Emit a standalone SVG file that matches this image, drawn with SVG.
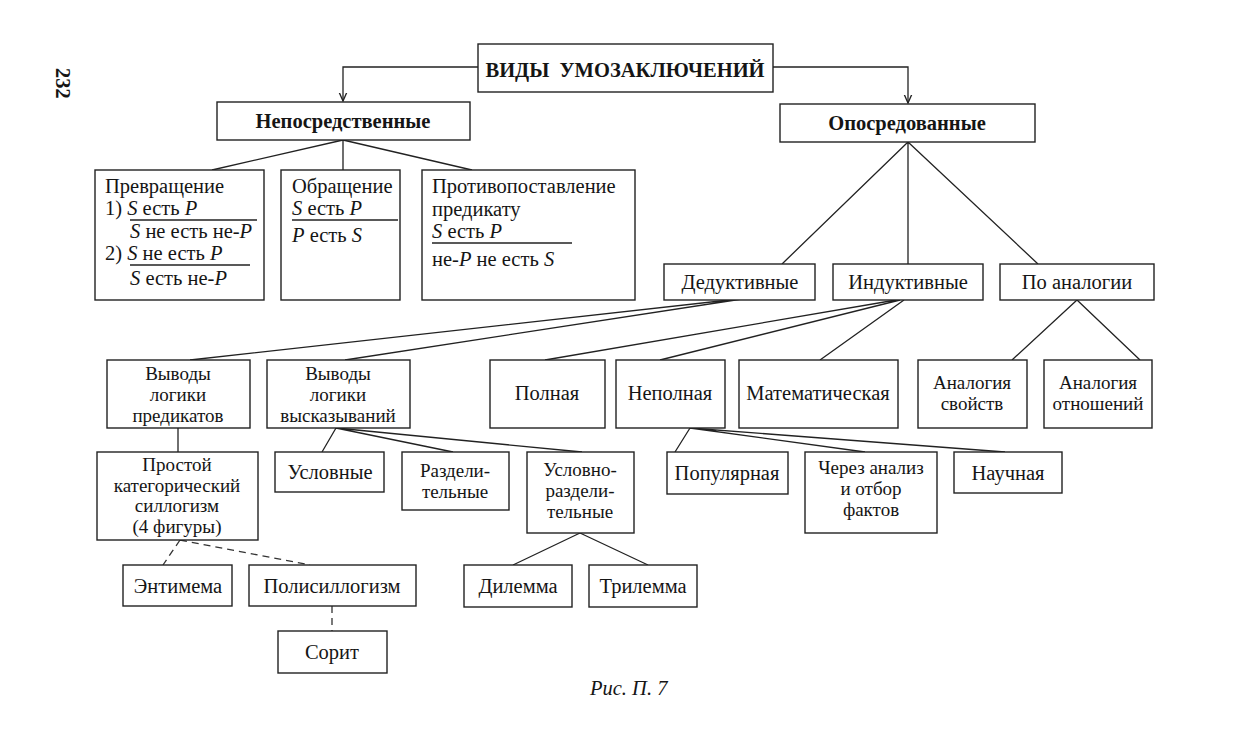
<svg xmlns="http://www.w3.org/2000/svg" width="1239" height="736" viewBox="0 0 1239 736">
<defs>
<style>
.b{fill:#fff;stroke:#222;stroke-width:1.4}
.t{font-family:"Liberation Serif","DejaVu Serif",serif;font-size:20.5px;fill:#151515}
.m{font-size:19px}
.c{text-anchor:middle}
.bold{font-weight:bold}
.i{font-style:italic}
.l{stroke:#222;stroke-width:1.3;fill:none}
.d{stroke:#333;stroke-width:1.3;fill:none;stroke-dasharray:7 5}
</style>
<marker id="ar" viewBox="0 0 10 10" refX="9" refY="5" markerWidth="7" markerHeight="7" orient="auto"><path d="M0,1 L9,5 L0,9" fill="none" stroke="#222" stroke-width="1.5"/></marker>
</defs>
<rect width="1239" height="736" fill="#fff"/>
<text x="0" y="0" class="t bold" font-size="18" transform="translate(56,68) rotate(90)">232</text>

<g id="connectors">
<path class="l" d="M478,67 H343 V101" marker-end="url(#ar)"/>
<path class="l" d="M773,67 H908 V103" marker-end="url(#ar)"/>
<path class="l" d="M343,140 L212,170 M343,140 V170 M343,140 L472,170"/>
<path class="l" d="M908,142 L782,264 M908,142 V264 M908,142 L1038,264"/>
<path class="l" d="M738,299 L190,360 M742,299 L345,360"/>
<path class="l" d="M896,300 L545,360 M900,300 L660,360 M904,300 L820,360"/>
<path class="l" d="M1077,300 L1012,360 M1077,300 L1140,360"/>
<path class="l" d="M178,428 V452"/>
<path class="l" d="M336,428 L322,452 M336,428 L453,452 M336,428 L582,452"/>
<path class="l" d="M690,428 L675,452 M690,428 L865,452 M690,428 L1005,452"/>
<path class="l" d="M580,533 L513,565 M580,533 L648,565"/>
<path class="d" d="M180,540 L163,565 M180,540 L310,565"/>
<path class="d" d="M332,606 V631" stroke-dasharray="4 4"/>
</g>

<g id="root"><rect class="b" x="478" y="44" width="295" height="48"/><text class="t c bold" x="625" y="77" font-size="21.5" xml:space="preserve">ВИДЫ  УМОЗАКЛЮЧЕНИЙ</text></g>
<g id="neposr"><rect class="b" x="217" y="102" width="253" height="38"/><text class="t c bold" x="343" y="128" font-size="18.5">Непосредственные</text></g>
<g id="oposr"><rect class="b" x="780" y="104" width="255" height="38"/><text class="t c bold" x="907" y="130" font-size="18.5">Опосредованные</text></g>

<g id="prevr"><rect class="b" x="95" y="170" width="169" height="130"/>
<text class="t" x="105" y="193">Превращение</text>
<text class="t" x="105" y="215">1) <tspan class="i">S</tspan> есть <tspan class="i">P</tspan></text>
<line class="l" x1="130" y1="220" x2="257" y2="220"/>
<text class="t" x="130" y="238"><tspan class="i">S</tspan> не есть не-<tspan class="i">P</tspan></text>
<text class="t" x="105" y="260">2) <tspan class="i">S</tspan> не есть <tspan class="i">P</tspan></text>
<line class="l" x1="130" y1="265" x2="250" y2="265"/>
<text class="t" x="130" y="285"><tspan class="i">S</tspan> есть не-<tspan class="i">P</tspan></text>
</g>
<g id="obr"><rect class="b" x="281" y="170" width="119" height="130"/>
<text class="t" x="292" y="193">Обращение</text>
<text class="t" x="292" y="215"><tspan class="i">S</tspan> есть <tspan class="i">P</tspan></text>
<line class="l" x1="292" y1="220" x2="398" y2="220"/>
<text class="t" x="292" y="242"><tspan class="i">P</tspan> есть <tspan class="i">S</tspan></text>
</g>
<g id="protiv"><rect class="b" x="422" y="170" width="213" height="130"/>
<text class="t" x="432" y="193">Противопоставление</text>
<text class="t" x="432" y="216">предикату</text>
<text class="t" x="432" y="238"><tspan class="i">S</tspan> есть <tspan class="i">P</tspan></text>
<line class="l" x1="432" y1="243" x2="572" y2="243"/>
<text class="t" x="432" y="266">не-<tspan class="i">P</tspan> не есть <tspan class="i">S</tspan></text>
</g>

<g id="ded"><rect class="b" x="664" y="264" width="151" height="36"/><text class="t c" x="740" y="289">Дедуктивные</text></g>
<g id="ind"><rect class="b" x="833" y="264" width="150" height="36"/><text class="t c" x="908" y="289">Индуктивные</text></g>
<g id="analog"><rect class="b" x="1000" y="264" width="154" height="36"/><text class="t c" x="1077" y="289">По аналогии</text></g>

<g id="vpred"><rect class="b" x="107" y="360" width="143" height="68"/><text class="t m c" x="178" y="380">Выводы</text><text class="t m c" x="178" y="401">логики</text><text class="t m c" x="178" y="422">предикатов</text></g>
<g id="vvysk"><rect class="b" x="267" y="360" width="143" height="68"/><text class="t m c" x="338" y="380">Выводы</text><text class="t m c" x="338" y="401">логики</text><text class="t m c" x="338" y="422">высказываний</text></g>
<g id="poln"><rect class="b" x="490" y="360" width="115" height="68"/><text class="t c" x="547" y="400">Полная</text></g>
<g id="nepoln"><rect class="b" x="616" y="360" width="109" height="68"/><text class="t c" x="670" y="400">Неполная</text></g>
<g id="matem"><rect class="b" x="739" y="360" width="159" height="68"/><text class="t c" x="818" y="400">Математическая</text></g>
<g id="asv"><rect class="b" x="918" y="360" width="109" height="68"/><text class="t m c" x="972" y="389">Аналогия</text><text class="t m c" x="972" y="410">свойств</text></g>
<g id="aotn"><rect class="b" x="1044" y="360" width="108" height="68"/><text class="t m c" x="1098" y="389">Аналогия</text><text class="t m c" x="1098" y="410">отношений</text></g>

<g id="prost"><rect class="b" x="97" y="452" width="161" height="88"/><text class="t m c" x="177" y="471" font-size="18.5">Простой</text><text class="t m c" x="177" y="491.5" font-size="18.5">категорический</text><text class="t m c" x="177" y="512" font-size="18.5">силлогизм</text><text class="t m c" x="177" y="532.5" font-size="18.5">(4 фигуры)</text></g>
<g id="uslov"><rect class="b" x="275" y="452" width="109" height="40"/><text class="t c" x="330" y="479">Условные</text></g>
<g id="razd"><rect class="b" x="402" y="452" width="107" height="58"/><text class="t m c" x="455" y="477">Раздели-</text><text class="t m c" x="455" y="498">тельные</text></g>
<g id="uslrazd"><rect class="b" x="527" y="452" width="107" height="81"/><text class="t m c" x="580" y="476">Условно-</text><text class="t m c" x="580" y="497">раздели-</text><text class="t m c" x="580" y="518">тельные</text></g>
<g id="popul"><rect class="b" x="667" y="452" width="121" height="42"/><text class="t c" x="727" y="480">Популярная</text></g>
<g id="cherez"><rect class="b" x="805" y="452" width="132" height="81"/><text class="t m c" x="871" y="474">Через анализ</text><text class="t m c" x="871" y="495">и отбор</text><text class="t m c" x="871" y="516">фактов</text></g>
<g id="nauch"><rect class="b" x="954" y="452" width="108" height="41"/><text class="t c" x="1008" y="480">Научная</text></g>

<g id="entim"><rect class="b" x="123" y="565" width="109" height="41"/><text class="t c" x="178" y="593">Энтимема</text></g>
<g id="polis"><rect class="b" x="249" y="565" width="167" height="41"/><text class="t c" x="332" y="593">Полисиллогизм</text></g>
<g id="dilem"><rect class="b" x="464" y="565" width="108" height="42"/><text class="t c" x="518" y="593">Дилемма</text></g>
<g id="trilem"><rect class="b" x="589" y="565" width="108" height="42"/><text class="t c" x="643" y="593">Трилемма</text></g>
<g id="sorit"><rect class="b" x="278" y="631" width="109" height="42"/><text class="t c" x="332" y="659">Сорит</text></g>

<text class="t i" x="590" y="695" font-size="16">Рис. П. 7</text>
</svg>
